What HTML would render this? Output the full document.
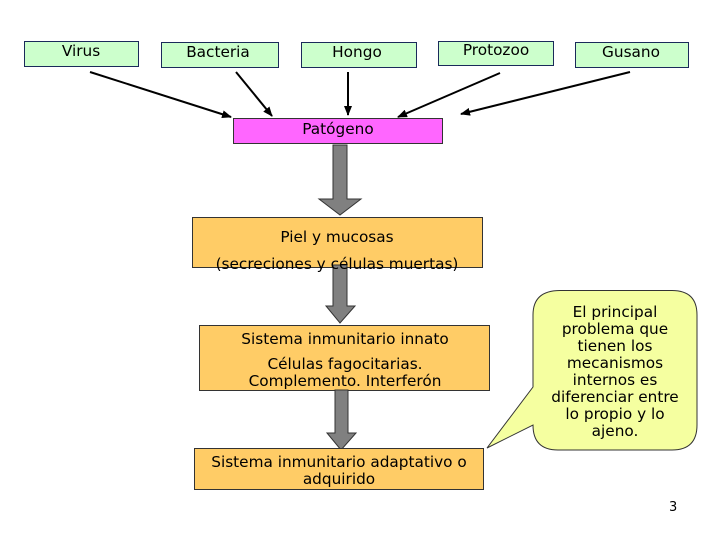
<!DOCTYPE html>
<html><head><meta charset="utf-8"><style>
body{margin:0;width:720px;height:540px;background:#fff;position:relative;overflow:hidden;font-family:"DejaVu Sans","Liberation Sans",sans-serif;}
svg{position:absolute;left:0;top:0}
</style></head><body>
<svg width="720" height="540" viewBox="0 0 720 540" font-family="DejaVu Sans, Liberation Sans, sans-serif" font-size="15.3">
<defs><marker id="a" markerWidth="10" markerHeight="8" refX="9" refY="4" orient="auto" markerUnits="userSpaceOnUse"><path d="M0,0 L10,4 L0,8 z" fill="#000"/></marker></defs>
<g stroke="#1a2a5a" stroke-width="1" fill="#ccffcc">
<rect x="24.5" y="41.5" width="114" height="25"/>
<rect x="161.5" y="42.5" width="117" height="25"/>
<rect x="301.5" y="42.5" width="115" height="25"/>
<rect x="438.5" y="41.5" width="115" height="24"/>
<rect x="575.5" y="42.5" width="113" height="25"/>
</g>
<g text-anchor="middle" fill="#000">
<text x="81" y="56">Virus</text>
<text x="218" y="57">Bacteria</text>
<text x="357" y="57">Hongo</text>
<text x="496" y="55">Protozoo</text>
<text x="631" y="57">Gusano</text>
</g>
<g stroke="#000" stroke-width="2" marker-end="url(#a)">
<line x1="90" y1="72" x2="231" y2="117"/>
<line x1="236" y1="72" x2="272" y2="116"/>
<line x1="348" y1="72" x2="348" y2="115"/>
<line x1="500" y1="73" x2="398" y2="117"/>
<line x1="630" y1="72" x2="461" y2="114"/>
</g>
<rect x="233.5" y="118.5" width="209" height="25" fill="#ff66ff" stroke="#333"/>
<text x="338" y="134" text-anchor="middle">Patógeno</text>
<path d="M333,145 H347 V199 H361 L340,215 L319,199 H333 Z" fill="#808080" stroke="#333"/>
<rect x="192.5" y="217.5" width="290" height="50" fill="#ffcc66" stroke="#333"/>
<path d="M333,265 H347 V306 H355 L340,323 L326,306 H333 Z" fill="#808080" stroke="#333"/>
<text x="337" y="242" text-anchor="middle">Piel y mucosas</text>
<text x="337" y="269" text-anchor="middle">(secreciones y células muertas)</text>
<rect x="199.5" y="325.5" width="290" height="65" fill="#ffcc66" stroke="#333"/>
<text x="345" y="344" text-anchor="middle">Sistema inmunitario innato</text>
<text x="345" y="369" text-anchor="middle">Células fagocitarias.</text>
<text x="345" y="386" text-anchor="middle">Complemento. Interferón</text>
<path d="M335,390 H348 V433 H356 L341,450 L327,433 H335 Z" fill="#808080" stroke="#333"/>
<rect x="194.5" y="448.5" width="289" height="41" fill="#ffcc66" stroke="#333"/>
<text x="339" y="467" text-anchor="middle">Sistema inmunitario adaptativo o</text>
<text x="339" y="484" text-anchor="middle">adquirido</text>
<path d="M560,290.5 H672 Q697,290.5 697,315 V425 Q697,450 672,450 H558 Q533,450 533,425 V425 L487,448 L533,387 V315 Q533,290.5 560,290.5 Z" fill="#f5ffa0" stroke="#333"/>
<g text-anchor="middle">
<text x="615" y="317">El principal</text>
<text x="615" y="334">problema que</text>
<text x="615" y="351">tienen los</text>
<text x="615" y="368">mecanismos</text>
<text x="615" y="385">internos es</text>
<text x="615" y="402">diferenciar entre</text>
<text x="615" y="419">lo propio y lo</text>
<text x="615" y="436">ajeno.</text>
</g>
<text x="669" y="511" font-size="13">3</text>
</svg>
</body></html>
